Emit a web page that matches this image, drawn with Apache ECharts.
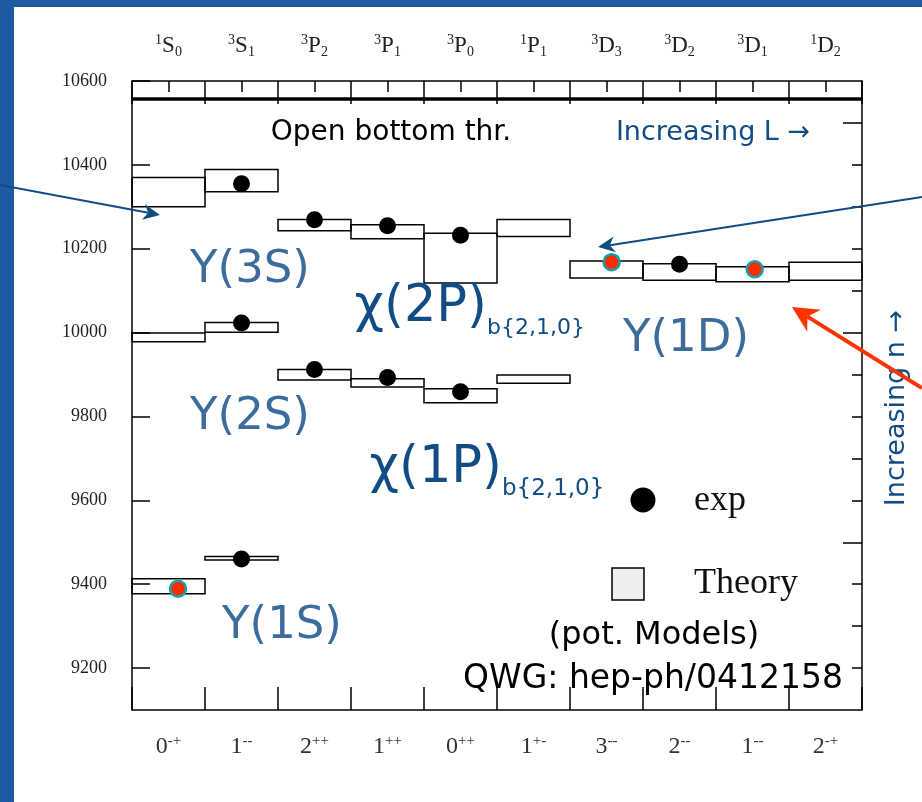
<!DOCTYPE html>
<html>
<head>
<meta charset="utf-8">
<script src="https://cdn.jsdelivr.net/npm/echarts@6/dist/echarts.min.js"></script>
<style>
  html, body { margin: 0; padding: 0; background: #1d5ba4; }
  #main { width: 922px; height: 802px; }
</style>
</head>
<body>
<div id="main"></div>
<script>
// Spectroscopic states (top axis) and J^PC (bottom axis)
const categories = ['1S0', '3S1', '3P2', '3P1', '3P0', '1P1', '3D3', '3D2', '3D1', '1D2'];
const spinMult   = ['1', '3', '3', '3', '3', '1', '3', '3', '3', '1'];
const orbital    = ['S', 'S', 'P', 'P', 'P', 'P', 'D', 'D', 'D', 'D'];
const totalJ     = ['0', '1', '2', '1', '0', '1', '3', '2', '1', '2'];
const parityC    = ['-+', '--', '++', '++', '++', '+-', '--', '--', '--', '-+'];

// Mass axis (MeV)
const massMin = 9100;
const massMax = 10600;
const leftTicks = [9200, 9400, 9600, 9800, 10000, 10200, 10400, 10600];
const rightMinorTicks = [9200, 9300, 9400, 9600, 9700, 9800, 9900, 10100, 10200, 10300, 10400];
const rightMajorTicks = [9500, 10000, 10500];

// Open-bottom (B Bbar) threshold
const openBottomThreshold = 10558;

// Potential-model bands: [state index, low, high]
const theory1S = [[0, 9377, 9413], [1, 9458, 9466]];
const theory2S = [[0, 9978, 9999], [1, 10001, 10024]];
const theory3S = [[0, 10300, 10370], [1, 10336, 10389]];
const theory1P = [[2, 9887, 9912], [3, 9870, 9890], [4, 9833, 9866], [5, 9879, 9899]];
const theory2P = [[2, 10243, 10270], [3, 10224, 10257], [4, 10118, 10237], [5, 10229, 10270]];
const theory1D = [[6, 10130, 10171], [7, 10125, 10164], [8, 10121, 10157], [9, 10125, 10168]];

// Measured masses: [state index, mass]
const expMasses = [
  [1, 10355], [1, 10023], [1, 9460],
  [2, 10269], [3, 10255], [4, 10232],
  [2, 9912], [3, 9893], [4, 9859],
  [7, 10163]
];
// Newer observations: [position along the state axis, mass]
const newMasses = [[0.63, 9389], [6.57, 10168], [8.53, 10151]];

const serif = '"Liberation Serif", "Times New Roman", serif';
const sans = '"DejaVu Sans", Verdana, sans-serif';
const darkBlue = '#114d84';
const steelBlue = '#3c6c9c';

const theoryBands = [].concat(theory1S, theory2S, theory3S, theory1P, theory2P, theory1D);

function arrow(x1, y1, x2, y2, color, width, headLen, headHalf) {
  const dx = x2 - x1, dy = y2 - y1;
  const len = Math.sqrt(dx * dx + dy * dy);
  const ux = dx / len, uy = dy / len;
  const px = -uy, py = ux;
  const bx = x2 - ux * headLen, by = y2 - uy * headLen;
  const nx = x2 - ux * headLen * 0.7, ny = y2 - uy * headLen * 0.7;
  return [
    { type: 'line', z: 100, silent: true,
      shape: { x1: x1, y1: y1, x2: nx, y2: ny },
      style: { stroke: color, lineWidth: width } },
    { type: 'polygon', z: 100, silent: true,
      shape: { points: [[x2, y2], [bx + px * headHalf, by + py * headHalf], [nx, ny], [bx - px * headHalf, by - py * headHalf]] },
      style: { fill: color } }
  ];
}

function label(text, x, y, size, color, align, extra) {
  return Object.assign({
    type: 'text', z: 100, silent: true, x: x, y: y,
    style: { text: text, font: size + 'px ' + sans, fill: color, align: align || 'center', verticalAlign: 'middle' }
  }, extra || {});
}

const chart = echarts.init(document.getElementById('main'), null, { renderer: 'canvas' });

const axisLineStyle = { color: '#000', width: 1.5 };

const option = {
  backgroundColor: '#1d5ba4',
  animation: false,
  grid: { left: 132, top: 81, width: 730, height: 629, containLabel: false },
  xAxis: [
    {
      type: 'category', position: 'bottom', data: categories, boundaryGap: true,
      axisLine: { show: true, lineStyle: axisLineStyle },
      axisTick: { show: true, inside: true, interval: 0, length: 23, lineStyle: axisLineStyle },
      axisLabel: {
        interval: 0, margin: 24,
        formatter: function (v, i) { return '{m|' + totalJ[i] + '}{sup|' + parityC[i] + '}'; },
        rich: {
          m: { fontFamily: serif, fontSize: 24, color: '#333', lineHeight: 26, verticalAlign: 'middle' },
          sup: { fontFamily: serif, fontSize: 15, color: '#333', lineHeight: 14, verticalAlign: 'top' }
        }
      },
      splitLine: { show: false }
    },
    {
      type: 'category', position: 'top', data: categories, boundaryGap: true,
      axisLine: { show: true, lineStyle: axisLineStyle },
      axisTick: { show: true, inside: true, interval: 0, length: 23, lineStyle: axisLineStyle },
      axisLabel: {
        interval: 0, margin: 22,
        formatter: function (v, i) { return '{sup|' + spinMult[i] + '}{m|' + orbital[i] + '}{sub|' + totalJ[i] + '}'; },
        rich: {
          m: { fontFamily: serif, fontSize: 23, color: '#222', lineHeight: 26, verticalAlign: 'middle' },
          sup: { fontFamily: serif, fontSize: 14, color: '#222', lineHeight: 14, verticalAlign: 'top' },
          sub: { fontFamily: serif, fontSize: 14, color: '#222', lineHeight: 14, verticalAlign: 'bottom' }
        }
      },
      splitLine: { show: false }
    },
    {
      type: 'category', position: 'top', data: categories, boundaryGap: true,
      axisLine: { show: false },
      axisTick: { show: true, inside: true, interval: 0, length: 11, alignWithLabel: true, lineStyle: axisLineStyle },
      axisLabel: { show: false, interval: 0 },
      splitLine: { show: false }
    },
    { type: 'value', min: 0, max: 10, show: false }
  ],
  yAxis: [
    {
      type: 'value', position: 'left', min: massMin, max: massMax,
      axisLine: { show: true, lineStyle: axisLineStyle },
      axisTick: { show: true, inside: true, length: 18, customValues: leftTicks, lineStyle: axisLineStyle },
      axisLabel: {
        customValues: leftTicks, fontFamily: serif, fontSize: 18, color: '#222', margin: 25,
        formatter: function (v) { return String(v); }
      },
      splitLine: { show: false }
    },
    {
      type: 'value', position: 'right', min: massMin, max: massMax,
      axisLine: { show: true, lineStyle: axisLineStyle },
      axisTick: { show: true, inside: true, length: 10, customValues: rightMinorTicks, lineStyle: axisLineStyle },
      axisLabel: { show: false },
      splitLine: { show: false }
    },
    {
      type: 'value', position: 'right', min: massMin, max: massMax,
      axisLine: { show: false },
      axisTick: { show: true, inside: true, length: 19, customValues: rightMajorTicks, lineStyle: axisLineStyle },
      axisLabel: { show: false },
      splitLine: { show: false }
    }
  ],
  series: [
    {
      name: 'Theory', type: 'custom', xAxisIndex: 0, yAxisIndex: 0,
      data: theoryBands,
      encode: { x: 0, y: [1, 2] },
      renderItem: function (params, api) {
        const c = api.value(0);
        const top = api.coord([c, api.value(2)]);
        const bottom = api.coord([c, api.value(1)]);
        const w = api.size([1, 0])[0];
        return {
          type: 'rect',
          shape: { x: top[0] - w / 2, y: top[1], width: w, height: bottom[1] - top[1] },
          style: { fill: 'rgba(255,255,255,0)', stroke: '#000', lineWidth: 1.5 }
        };
      },
      markLine: {
        silent: true, symbol: 'none', label: { show: false },
        lineStyle: { color: '#000', width: 3.5, type: 'solid', opacity: 1 },
        data: [{ yAxis: openBottomThreshold }]
      },
      z: 3
    },
    {
      name: 'exp', type: 'scatter', xAxisIndex: 0, yAxisIndex: 0,
      data: expMasses, symbol: 'circle', symbolSize: 17,
      itemStyle: { color: '#000', opacity: 1 }, z: 5
    },
    {
      name: 'new', type: 'scatter', xAxisIndex: 3, yAxisIndex: 0,
      data: newMasses, symbol: 'circle', symbolSize: 16,
      itemStyle: { color: '#ff2a00', borderColor: '#13a3a6', borderWidth: 2.5, opacity: 1 }, z: 6
    }
  ],
  graphic: [].concat(
    [{ type: 'rect', z: -100, silent: true, shape: { x: 14, y: 7, width: 908, height: 795 }, style: { fill: '#ffffff' } }],
    [
      label('Open bottom thr.', 391, 133, 28, '#000'),
      label('Increasing L \u2192', 713, 133, 27, darkBlue),
      label('Y(3S)', 250, 270, 45, steelBlue),
      label('Y(2S)', 250, 417, 45, steelBlue),
      label('Y(1S)', 282, 626, 45, steelBlue),
      label('Y(1D)', 686, 339, 45, steelBlue),
      label('\u03c7(2P)', 487, 308, 51, darkBlue, 'right'),
      label('b{2,1,0}', 487, 328, 22, darkBlue, 'left'),
      label('\u03c7(1P)', 502, 469, 51, darkBlue, 'right'),
      label('b{2,1,0}', 502, 489, 23, darkBlue, 'left'),
      label('(pot. Models)', 654, 636, 32, '#000'),
      label('QWG: hep-ph/0412158', 653, 679, 33, '#000'),
      label('Increasing n \u2192', 897, 408, 27, darkBlue, 'center', { rotation: Math.PI / 2 })
    ],
    [
      { type: 'circle', z: 100, silent: true, shape: { cx: 643, cy: 500, r: 12.5 }, style: { fill: '#000' } },
      { type: 'rect', z: 100, silent: true, shape: { x: 612, y: 568, width: 32, height: 32 }, style: { fill: '#eeeeee', stroke: '#000', lineWidth: 1.5 } },
      { type: 'text', z: 100, silent: true, x: 694, y: 501, style: { text: 'exp', font: '36px ' + serif, fill: '#111', align: 'left', verticalAlign: 'middle' } },
      { type: 'text', z: 100, silent: true, x: 694, y: 584, style: { text: 'Theory', font: '36px ' + serif, fill: '#111', align: 'left', verticalAlign: 'middle' } }
    ],
    arrow(0, 185, 160, 215, darkBlue, 2, 17, 8),
    arrow(922, 197, 598, 247, darkBlue, 2, 17, 8),
    arrow(922, 388, 792, 307, '#ff3300', 4, 26, 13)
  )
};

chart.setOption(option);
</script>
</body>
</html>
